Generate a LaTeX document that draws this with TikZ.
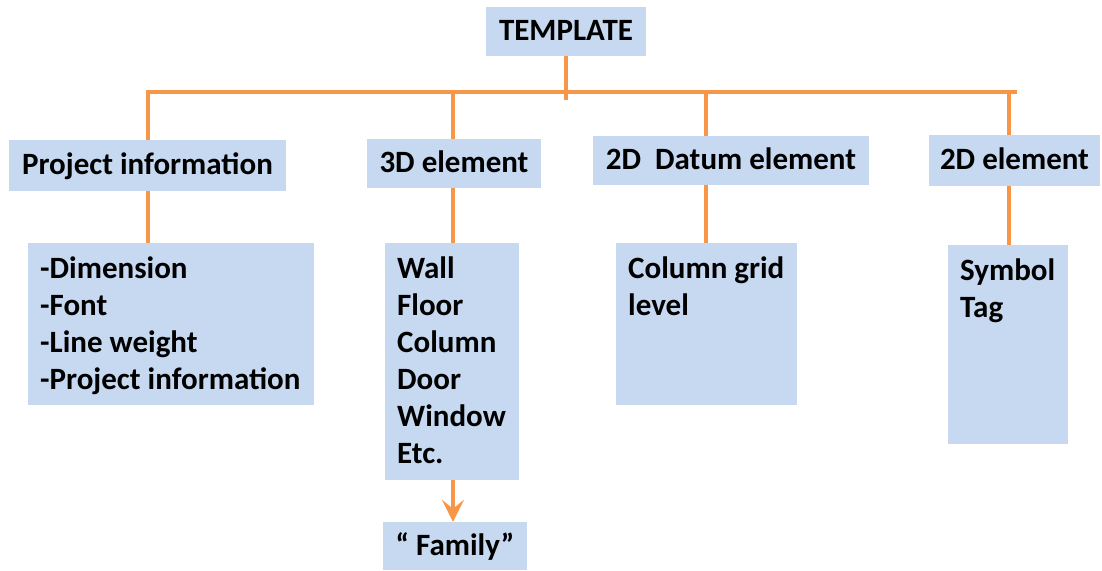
\documentclass[tikz,border=0pt]{standalone}
\usepackage{fontspec}
\setmainfont{Carlito}
\usetikzlibrary{arrows.meta}
\definecolor{boxblue}{RGB}{198,217,240}
\definecolor{lineorange}{RGB}{247,150,70}
\newcommand{\BoxFont}{\fontsize{31}{37}\selectfont\bfseries\hyphenpenalty=10000}
\newcommand{\OneLine}[1]{\mbox{\spaceskip=0pt \xspaceskip=0pt #1}}

\begin{document}
\begin{tikzpicture}[x=1pt,y=-1pt,
  head/.style={fill=boxblue, font=\BoxFont, inner sep=0pt, text height=23pt, text depth=5pt},
  list/.style={fill=boxblue, font=\BoxFont, align=left, anchor=north west,
    inner xsep=12pt, inner ysep=0pt, text height=35pt},
  link/.style={draw=lineorange, line width=4pt}]
\useasboundingbox (0,0) rectangle (1102,570);

% top box
\node[head, minimum width=160pt, minimum height=49pt] (tmpl) at (566,31.5) {TEMPLATE};

% second row
\node[head, minimum width=277pt, minimum height=51pt] (proj) at (147.5,165.5) {Project information};
\node[head, minimum width=174pt, minimum height=49pt] (elem3d) at (454,163.5) {3D element};
\node[head, minimum width=276pt, minimum height=49pt] (datum) at (731,160.5) {2D~ Datum element};
\node[head, minimum width=171pt, minimum height=51pt] (elem2d) at (1014.5,160.5) {2D element};

% lists
\node[list, text width=262pt, text depth=127pt] (projlist) at (28,243)
    {-Dimension\\-Font\\\OneLine{-Line weight}\\\OneLine{-Project information}};
\node[list, text width=110pt, text depth=202pt] (elemlist) at (385,243)
    {Wall\\Floor\\Column\\Door\\Window\\Etc.};
\node[list, text width=157pt, text depth=127pt] (datumlist) at (616,243)
    {\OneLine{Column grid}\\level};
\node[list, text width=96pt, text depth=164pt] (symlist) at (948,245)
    {Symbol\\Tag};

% family box
\node[head, minimum width=144pt, minimum height=48pt] (family) at (455,546) {“ Family”};

% horizontal bar
\coordinate (barL) at (146,92);
\coordinate (barR) at (1017,92);
\draw[link] (barL) -- (barR);
\draw[link] (tmpl.south) -- ++(0,44);

% branch points on the bar
\coordinate (b1) at (148,92);
\coordinate (b2) at (453,92);
\coordinate (b3) at (706,92);
\coordinate (b4) at (1009,92);

% vertical lines
\draw[link] (b1) -- (b1 |- proj.north);
\draw[link] (b2) -- (b2 |- elem3d.north);
\draw[link] (b3) -- (b3 |- datum.north);
\draw[link] (b4) -- (b4 |- elem2d.north);

\draw[link] (b1 |- proj.south) -- (b1 |- projlist.north);
\draw[link] (b2 |- elem3d.south) -- (b2 |- elemlist.north);
\draw[link] (b3 |- datum.south) -- (b3 |- datumlist.north);
\draw[link] (b4 |- elem2d.south) -- (b4 |- symlist.north);

% arrow to family
\draw[link, -{Stealth[length=22pt,width=22pt,inset=9pt]}]
    (b2 |- elemlist.south) -- (b2 |- family.north);
\end{tikzpicture}
\end{document}
